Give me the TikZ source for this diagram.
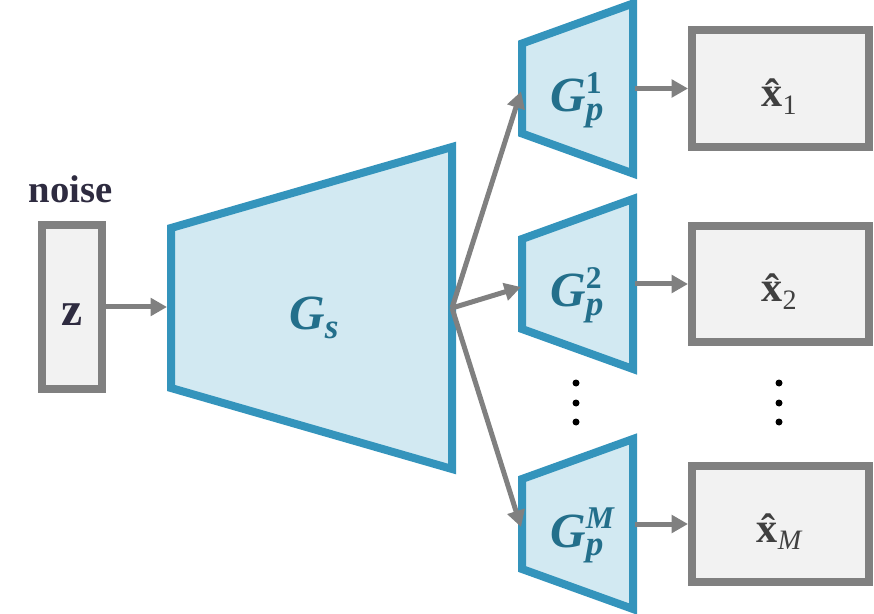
\documentclass[tikz,border=0pt]{standalone}
\usepackage{fontspec}
\setmainfont{Liberation Serif}
\usepackage{xcolor}
\definecolor{genblue}{RGB}{52,148,188}
\definecolor{genfill}{RGB}{210,233,242}
\definecolor{gentext}{RGB}{35,111,139}
\definecolor{boxgray}{RGB}{128,128,128}
\definecolor{boxfill}{RGB}{242,242,242}
\definecolor{hatgray}{RGB}{64,64,64}
\definecolor{noisenavy}{RGB}{46,43,64}
\usetikzlibrary{arrows.meta}
% G with superscript #1 and subscript #2
\newcommand{\genlbl}[2]{G\rlap{\raisebox{10.5pt}{\fontsize{18}{18}\selectfont\upshape #1}}\raisebox{-5pt}{\fontsize{20}{20}\selectfont #2}}
% bold x with hat and subscript #1
\newcommand{\xhat}[1]{x^^^^0302\raisebox{-4.5pt}{\fontsize{16}{16}\selectfont\mdseries #1}}

\begin{document}
\begin{tikzpicture}[x=0.02cm,y=-0.02cm,
  gen/.style={draw=genblue,fill=genfill,line width=0.16cm,line join=miter},
  inbox/.style={draw=boxgray,fill=boxfill,line width=0.16cm,minimum width=1.2cm,minimum height=3.3cm},
  outbox/.style={draw=boxgray,fill=boxfill,line width=0.16cm,minimum width=3.54cm,minimum height=2.34cm},
  genlabel/.style={anchor=base west,inner sep=0pt,font=\fontsize{28}{32}\selectfont\bfseries\itshape,text=gentext},
  xlabel/.style={anchor=base,inner sep=0pt,font=\fontsize{24}{28}\selectfont\bfseries,text=hatgray},
  flow/.style={draw=boxgray,line width=0.1cm,-{Triangle[length=0.33cm,width=0.35cm]}},
  dot/.style={circle,fill=black,inner sep=0pt,minimum size=0.14cm}]
  \useasboundingbox (0,0) rectangle (874,614);
  % noise input
  \node[anchor=base,inner sep=0pt,font=\fontsize{22}{26}\selectfont\bfseries,text=noisenavy] (noise) at (70.5,203) {noise};
  \node[inbox] (zbox) at (72,307) {};
  \node[anchor=base,inner sep=0pt,font=\fontsize{27}{30}\selectfont\bfseries,text=noisenavy] (z) at (72,325) {z};
  % shared generator
  \draw[gen] (171,228) -- (452,147) -- (452,469) -- (171,388) -- cycle;
  \coordinate (gs-in) at (167,307);
  \coordinate (gs-out) at (452,308);
  \node[genlabel] (gs) at (289,330) {\genlbl{}{s}};
  \draw[flow] (zbox.east) -- (gs-in);
  % private generators and outputs
  \foreach \n/\c/\s/\o in {1/88.5/1/1, 2/284/2/2, M/524/\itshape M/\itshape M}{
    \draw[gen] (522,\c-45) -- (633,\c-85) -- (633,\c+85) -- (522,\c+45) -- cycle;
    \coordinate (gp\n-in) at (521,\c+3);
    \coordinate (gp\n-out) at (635,\c);
    \node[genlabel] (gp\n) at (550,\c+23) {\genlbl{\s}{p}};
    \node[outbox] (xhat\n) at (780.5,\c) {};
    \node[xlabel] (xl\n) at (779,\c+18) {\xhat{\o}};
    \draw[flow] (gs-out) -- (gp\n-in);
    \draw[flow] (gp\n-out) -- (xhat\n);
  }
  % dots
  \foreach \x in {576,779}
    \foreach \y in {383,403,422}
      \node[dot] at (\x,\y) {};
\end{tikzpicture}
\end{document}
